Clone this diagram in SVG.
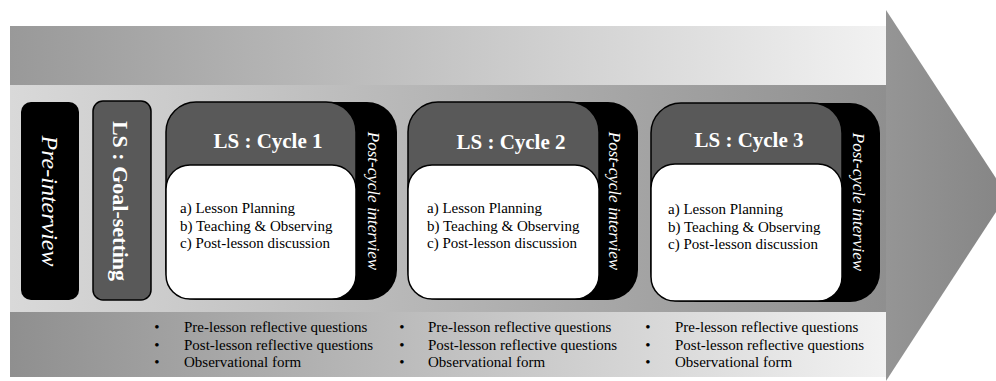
<svg xmlns="http://www.w3.org/2000/svg" width="996" height="381" viewBox="0 0 996 381">
<defs>
<linearGradient id="gTop" x1="0" y1="0" x2="1" y2="0"><stop offset="0" stop-color="#999999"/><stop offset="1" stop-color="#f2f2f2"/></linearGradient>
<linearGradient id="gMid" x1="0" y1="0" x2="1" y2="0"><stop offset="0" stop-color="#d9d9d9"/><stop offset="1" stop-color="#8f8f8f"/></linearGradient>
<linearGradient id="gBot" x1="0" y1="0" x2="1" y2="0"><stop offset="0" stop-color="#8f8f8f"/><stop offset="1" stop-color="#f2f2f2"/></linearGradient>
<linearGradient id="gHead" x1="0" y1="0" x2="1" y2="0"><stop offset="0" stop-color="#959595"/><stop offset="1" stop-color="#858585"/></linearGradient>
<style>
.t{font-family:"Liberation Serif","Times New Roman",serif;}
.title{font-size:21px;font-weight:bold;fill:#ffffff;text-anchor:middle;}
.vert{font-size:17px;font-style:italic;fill:#ffffff;text-anchor:middle;}
.item{font-size:15px;fill:#000000;}
.bul{font-size:15px;fill:#000000;text-anchor:middle;}
.gray{fill:#595959;stroke:#000000;stroke-width:1.5;}
.white{fill:#ffffff;stroke:#000000;stroke-width:1.5;}
</style>
</defs>
<g id="arrow-background">
<polygon points="886,10 1007,195 886,381" fill="url(#gHead)"/>
<rect x="10" y="26" width="876" height="59" fill="url(#gTop)"/>
<rect x="10" y="85" width="876" height="227" fill="url(#gMid)"/>
<rect x="10" y="312" width="876" height="65" fill="url(#gBot)"/>
</g>
<g id="pre-interview">
<rect x="21" y="102" width="58" height="198" rx="10" fill="#000000"/>
<text class="t" transform="translate(42,201) rotate(90)" font-size="24" font-style="italic" fill="#ffffff" text-anchor="middle">Pre-interview</text>
</g>
<g id="goal-setting">
<rect x="93" y="101" width="58" height="199" rx="10" class="gray"/>
<text class="t" transform="translate(113,201) rotate(90)" font-size="22" font-weight="bold" fill="#ffffff" text-anchor="middle">LS : Goal-setting</text>
</g>
<g id="cycle1">
<rect x="186" y="102" width="211" height="198" rx="30" fill="#000000"/>
<rect x="166" y="102" width="190" height="197" rx="30" class="gray"/>
<rect x="166" y="165" width="190" height="134" rx="24" class="white"/>
<text class="t title" x="268" y="148">LS : Cycle 1</text>
<text class="t vert" transform="translate(368,201) rotate(90)">Post-cycle interview</text>
<text class="t item" x="180" y="213">a) Lesson Planning</text>
<text class="t item" x="180" y="231">b) Teaching &amp; Observing</text>
<text class="t item" x="180" y="248">c) Post-lesson discussion</text>
</g>
<g id="cycle2">
<rect x="428" y="102" width="210" height="198" rx="30" fill="#000000"/>
<rect x="408" y="102" width="191" height="197" rx="30" class="gray"/>
<rect x="408" y="165" width="191" height="134" rx="24" class="white"/>
<text class="t title" x="511" y="149">LS : Cycle 2</text>
<text class="t vert" transform="translate(609,201) rotate(90)">Post-cycle interview</text>
<text class="t item" x="427" y="213">a) Lesson Planning</text>
<text class="t item" x="427" y="231">b) Teaching &amp; Observing</text>
<text class="t item" x="427" y="248">c) Post-lesson discussion</text>
</g>
<g id="cycle3">
<rect x="671" y="103" width="209" height="199" rx="30" fill="#000000"/>
<rect x="651" y="103" width="191" height="198" rx="30" class="gray"/>
<rect x="651" y="164" width="191" height="137" rx="24" class="white"/>
<text class="t title" x="749" y="147">LS : Cycle 3</text>
<text class="t vert" transform="translate(853,202) rotate(90)">Post-cycle interview</text>
<text class="t item" x="668" y="214">a) Lesson Planning</text>
<text class="t item" x="668" y="232">b) Teaching &amp; Observing</text>
<text class="t item" x="668" y="249">c) Post-lesson discussion</text>
</g>
<g id="tools1">
<text class="t bul" x="157" y="332">•</text>
<text class="t bul" x="157" y="350">•</text>
<text class="t bul" x="157" y="367">•</text>
<text class="t item" x="184" y="332">Pre-lesson reflective questions</text>
<text class="t item" x="184" y="350">Post-lesson reflective questions</text>
<text class="t item" x="184" y="367">Observational form</text>
</g>
<g id="tools2">
<text class="t bul" x="402" y="332">•</text>
<text class="t bul" x="402" y="350">•</text>
<text class="t bul" x="402" y="367">•</text>
<text class="t item" x="428" y="332">Pre-lesson reflective questions</text>
<text class="t item" x="428" y="350">Post-lesson reflective questions</text>
<text class="t item" x="428" y="367">Observational form</text>
</g>
<g id="tools3">
<text class="t bul" x="648" y="332">•</text>
<text class="t bul" x="648" y="350">•</text>
<text class="t bul" x="648" y="367">•</text>
<text class="t item" x="675" y="332">Pre-lesson reflective questions</text>
<text class="t item" x="675" y="350">Post-lesson reflective questions</text>
<text class="t item" x="675" y="367">Observational form</text>
</g>
<g id="connectors"></g>
</svg>
